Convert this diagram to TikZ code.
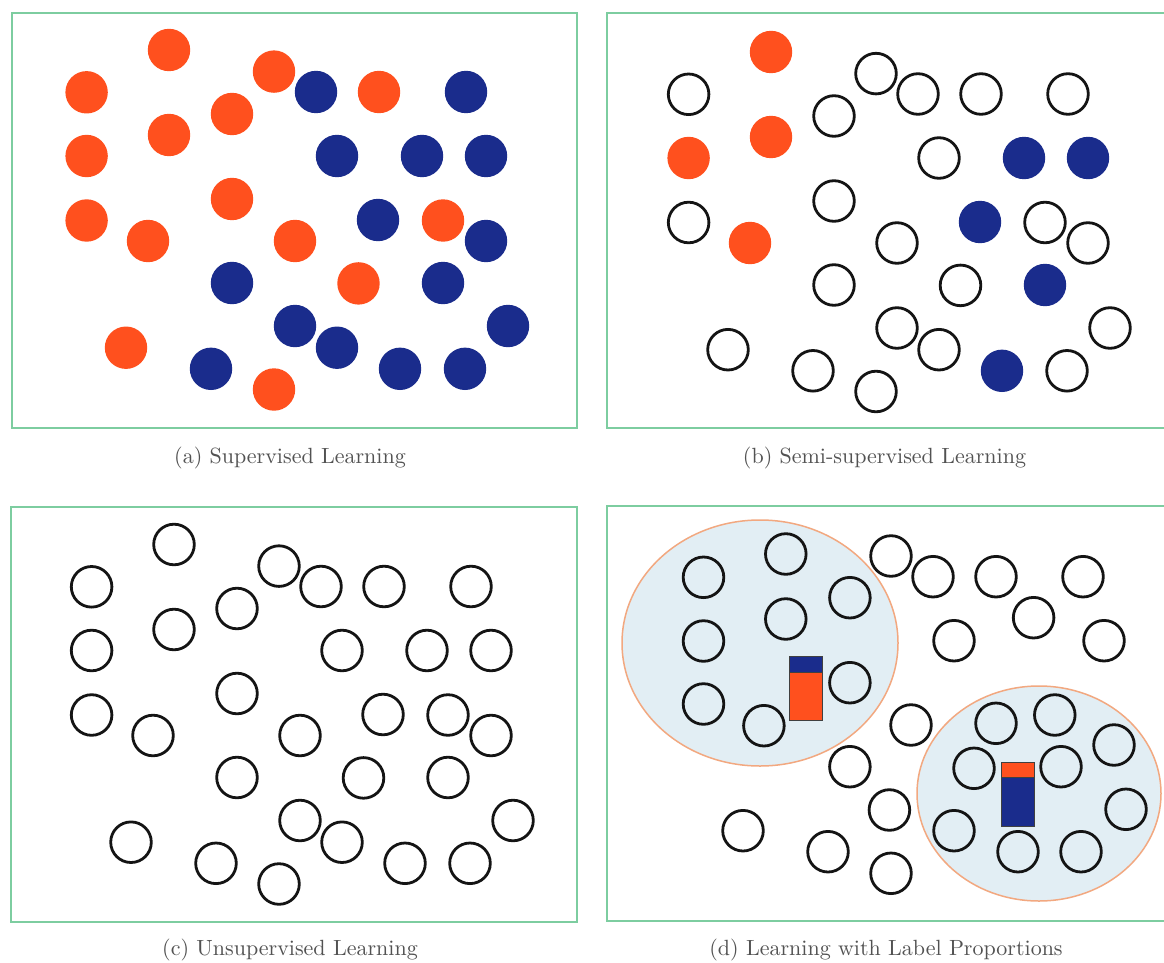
\documentclass[tikz,border=0pt]{standalone}
\definecolor{orng}{RGB}{255,80,30}
\definecolor{navy}{RGB}{26,44,140}
\definecolor{framegreen}{RGB}{125,205,160}
\definecolor{bagfill}{RGB}{226,238,244}
\definecolor{bagline}{RGB}{242,168,128}
\def\orangepts{(86.6,92.3),(169,50),(274,71.6),(232,114),(169,135),(86.6,156),(232,199),(86.6,220.5),(148,241),(295,241),(379,92),(443,220.5),(358.5,283.4),(126,347.7),(274,389.5)}
\def\bluepts{(316,92),(466,92),(337,156),(422,156),(486,156),(378,220),(486,241),(232,283),(443,283),(295,326),(508,326),(337,347.7),(211,368.8),(400,368.8),(465,368.8)}
\def\semiopen{(86.6,92.3),(274,71.6),(232,114),(232,199),(86.6,220.5),(295,241),(379,92),(443,220.5),(358.5,283.4),(126,347.7),(274,389.5),(316,92),(466,92),(337,156),(486,241),(232,283),(295,326),(508,326),(337,347.7),(211,368.8),(465,368.8)}
\def\semiorange{(169,50),(169,135),(86.6,156),(148,241)}
\def\semiblue{(422,156),(486,156),(378,220),(443,283),(400,368.8)}
\def\lpopen{(703.5,577.3),(785.8,554),(849.9,597.7),(785.8,619),(703.5,641),(849.9,682.7),(703.5,704),(763.9,725.7),(891,556),(933,576.7),(996,576.7),(1083,576.7),(1033.6,617.7),(954,640.7),(1104,640.7),(911,725),(849.9,766.7),(889.4,810),(743,830.7),(828,851.7),(891,873.3),(996,723.3),(1054.8,715),(1114,745),(974,768.3),(1061,766.7),(1126,809.3),(954,830.7),(1018,851.7),(1081,851.7)}
\begin{document}
\begin{tikzpicture}[x=1pt,y=-1pt,
  panel/.style={draw=framegreen, line width=2pt},
  dotorange/.style={fill=orng},
  dotblue/.style={fill=navy},
  dotopen/.style={draw=black!92, line width=2.8pt},
  bag/.style={fill=bagfill, draw=bagline, line width=1.5pt},
  captext/.style={scale=2.2, text=black!68, inner sep=0pt}]
\useasboundingbox (0,0) rectangle (1164,963);
\clip (0,0) rectangle (1164,963);
\fill[white] (0,0) rectangle (1164,963);
% frames
\draw[panel] (12,13) rectangle (577,428);
\draw[panel] (607,13) rectangle (1172,428);
\draw[panel] (11,507) rectangle (577,922);
\draw[panel] (607,506) rectangle (1172,921);
% (a) supervised
\foreach \p in \orangepts {\fill[dotorange] \p circle[radius=21.2pt];}
\foreach \p in \bluepts {\fill[dotblue] \p circle[radius=21.2pt];}
% (b) semi-supervised
\begin{scope}[shift={(602,2)}]
\foreach \p in \semiorange {\fill[dotorange] \p circle[radius=21.2pt];}
\foreach \p in \semiblue {\fill[dotblue] \p circle[radius=21.2pt];}
\foreach \p in \semiopen {\draw[dotopen] \p circle[radius=20.3pt];}
\end{scope}
% (c) unsupervised
\begin{scope}[shift={(5,494.5)}]
\foreach \p in \orangepts {\draw[dotopen] \p circle[radius=20.3pt];}
\foreach \p in \bluepts {\draw[dotopen] \p circle[radius=20.3pt];}
\end{scope}
% (d) label proportions
\draw[bag] (760,643) ellipse[x radius=138pt, y radius=123pt];
\draw[bag] (1039,793.5) ellipse[x radius=122pt, y radius=107.5pt];
\foreach \p in \lpopen {\draw[dotopen] \p circle[radius=20.3pt];}
% proportion bars
\fill[orng] (789.5,672) rectangle (822.5,720);
\fill[navy] (789.5,656) rectangle (822.5,672);
\draw[black!75, line width=0.9pt] (789.5,672) -- (822.5,672);
\draw[black!75, line width=0.9pt] (789.5,656) rectangle (822.5,720);
\fill[orng] (1001.5,762) rectangle (1034.5,777.5);
\fill[navy] (1001.5,777.5) rectangle (1034.5,826);
\draw[black!75, line width=0.9pt] (1001.5,777.5) -- (1034.5,777.5);
\draw[black!75, line width=0.9pt] (1001.5,762) rectangle (1034.5,826);
% captions
\node[captext] (capa) at (290,458) {(a) Supervised Learning};
\node[captext] (capb) at (884.5,458) {(b) Semi-supervised Learning};
\node[captext] (capc) at (290,950) {(c) Unsupervised Learning};
\node[captext] (capd) at (886,950) {(d) Learning with Label Proportions};
\end{tikzpicture}
\end{document}
